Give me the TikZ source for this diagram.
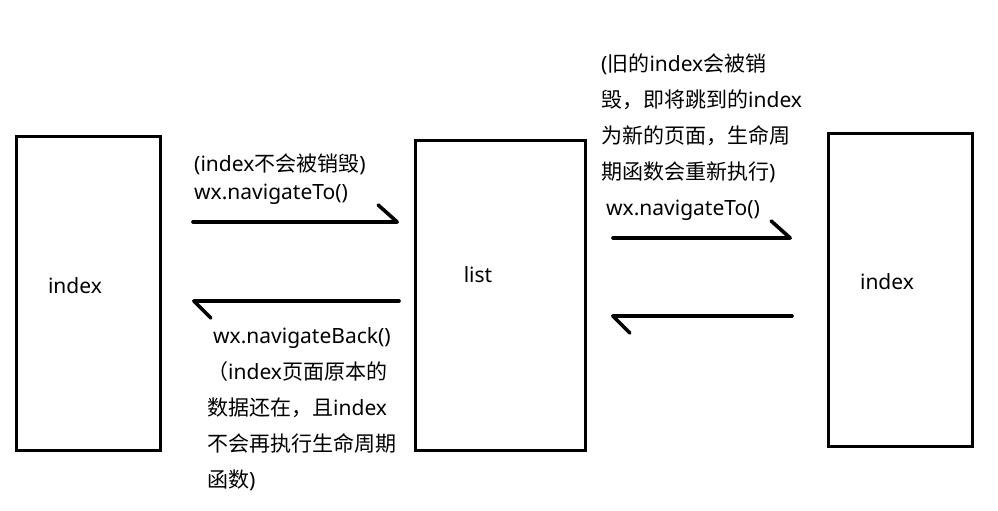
\documentclass[tikz,border=0pt]{standalone}
\usepackage{fontspec}
\setmainfont{Noto Sans}
\newfontfamily\zhfont{Noto Sans CJK SC}
\newcommand\zh[1]{{\zhfont #1}}
\usepackage{tikz}
\usetikzlibrary{arrows.meta}

\begin{document}
\begin{tikzpicture}[x=1pt, y=-1pt,
  page/.style={draw, line width=3.4pt, inner sep=0pt},
  go/.style={line width=3.6pt, line cap=round,
    -{Straight Barb[harpoon, length=19pt, width=34pt, round]}},
  back/.style={line width=3.6pt, line cap=round,
    -{Straight Barb[harpoon, length=17pt, width=34pt, round]}},
  note/.style={align=left, inner sep=0pt, anchor=base west,
    font=\fontsize{21}{36}\selectfont},
  every node/.append style={font=\fontsize{21}{25}\selectfont}]
\useasboundingbox (0,0) rectangle (998,511);

% 三个页面
\node[page, minimum width=144pt, minimum height=314pt] (idxA) at (88.5,293.5) {};
\node[page, minimum width=170pt, minimum height=310pt] (lst) at (500.5,295.5) {};
\node[page, minimum width=144pt, minimum height=313pt] (idxB) at (900.5,290) {};
\node (idxAtxt) at (75,286) {index};
\node (lsttxt) at (478,275) {list};
\node (idxBtxt) at (887,282) {index};

% 跳转箭头
\coordinate (goA) at (193,222);
\coordinate (goB) at (399,222);
\coordinate (backA) at (399,301);
\coordinate (backB) at (192,301);
\coordinate (goC) at (613,238);
\coordinate (goD) at (792,238);
\coordinate (backC) at (792,316);
\coordinate (backD) at (611,316);
\draw[go] (goA) -- (goB);
\draw[back] (backA) -- (backB);
\draw[go] (goC) -- (goD);
\draw[back] (backC) -- (backD);

% 说明文字（基线在最后一行）
\node[note, font=\fontsize{21}{28}\selectfont] (toNote) at (194,199)
  {(index\zh{不会被销毁})\\wx.navigateTo()};
\node[note] (backNote) at (207,487)
  {\hspace*{6pt}wx.navigateBack()\\\zh{（}index\zh{页面原本的}\\\zh{数据还在，且}index\\\zh{不会再执行生命周期}\\\zh{函数})};
\node[note] (redirNote) at (601,215)
  {(\zh{旧的}index\zh{会被销}\\\zh{毁，即将跳到的}index\\\zh{为新的页面，生命周}\\\zh{期函数会重新执行})\\\hspace*{5pt}wx.navigateTo()};
\end{tikzpicture}
\end{document}
